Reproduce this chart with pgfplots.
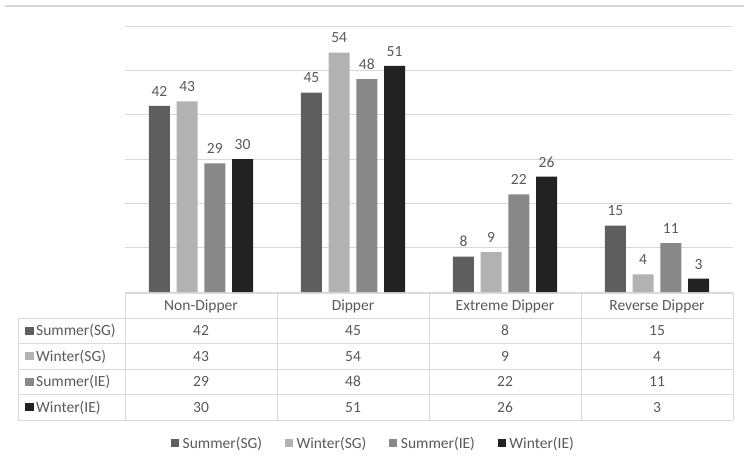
\documentclass[border=0pt]{standalone}
\usepackage{pgfplots}
\usepackage{pgfplotstable}
\pgfplotsset{compat=1.18}
\usepackage{fontspec}
\setmainfont{Carlito}
\definecolor{cA}{HTML}{5F5F5F}
\definecolor{cB}{HTML}{B2B2B2}
\definecolor{cC}{HTML}{888888}
\definecolor{cD}{HTML}{222222}
\definecolor{txt}{HTML}{595959}
\definecolor{gridc}{HTML}{D9D9D9}
\pgfplotstableread{
x SSG WSG SIE WIE
0 42 43 29 30
1 45 54 48 51
2 8 9 22 26
3 15 4 11 3
}\data
\newcommand{\fnt}{\fontsize{15.5}{18}\selectfont}
\begin{document}
\begin{tikzpicture}[x=1pt,y=1pt]
\useasboundingbox (0,0) rectangle (744,466);
\draw[gridc, line width=1.2pt] (5,460) -- (744,460);
\begin{axis}[
  at={(125pt,174pt)}, anchor=south west,
  scale only axis, width=608pt, height=266pt,
  xmin=-0.5, xmax=3.5, ymin=0, ymax=60,
  xtick=\empty, ytick={0,10,...,60}, yticklabels={},
  major tick length=0pt,
  ymajorgrids, grid style={gridc, line width=0.9pt},
  axis line style={draw=none},
  ybar=6.7pt, bar width=21pt,
  clip=false,
  /pgf/number format/assume math mode=true,
  nodes near coords,
  every node near coord/.append style={font=\fnt, text=txt, yshift=6pt},
  legend columns=4,
  legend image code/.code={\draw[#1,draw=none] (0pt,-4pt) rectangle (8pt,4pt);},
  legend style={draw=none, fill=none, font=\fnt, text=txt,
    at={(0.4087,-0.568)}, anchor=center,
    /tikz/every odd column/.append style={column sep=1.5pt},
    /tikz/every even column/.append style={column sep=21pt},
    nodes={inner sep=2pt}},
]
\addplot[fill=cA, draw=none] table[x=x,y=SSG]{\data};
\addplot[fill=cB, draw=none] table[x=x,y=WSG]{\data};
\addplot[fill=cC, draw=none] table[x=x,y=SIE]{\data};
\addplot[fill=cD, draw=none] table[x=x,y=WIE]{\data};
\legend{Summer(SG),Winter(SG),Summer(IE),Winter(IE)}
\end{axis}
% data table grid
\begin{scope}[gridc, line width=0.9pt]
\draw (125,173) -- (733,173);
\foreach \yy in {148,122.5,97,71.5,46} \draw (18,\yy) -- (733,\yy);
\draw (18,148) -- (18,46);
\foreach \xx in {125,277,429,581,733} \draw (\xx,173) -- (\xx,46);
\end{scope}
% headers
\foreach \nm [count=\i from 0] in {Non-Dipper,Dipper,Extreme Dipper,Reverse Dipper}
  \node[anchor=base, font=\fnt, text=txt, inner sep=0pt] at ({201+152*\i},155.5) {\nm};
% row labels
\foreach \lab/\col [count=\j from 0] in {Summer(SG)/cA,Winter(SG)/cB,Summer(IE)/cC,Winter(IE)/cD}{
  \fill[\col] (25,{135.25-25.5*\j-4.2}) rectangle (33.5,{135.25-25.5*\j+4.2});
  \node[anchor=base west, font=\fnt, text=txt, inner sep=0pt] at (36,{130.25-25.5*\j}) {\lab};
}
% values
\foreach \r in {0,...,3}{
  \foreach \c [count=\j from 0] in {SSG,WSG,SIE,WIE}{
    \pgfplotstablegetelem{\r}{\c}\of\data
    \node[anchor=base, font=\fnt, text=txt, inner sep=0pt] at ({201+152*\r},{130.25-25.5*\j}) {\pgfplotsretval};
  }
}
\end{tikzpicture}
\end{document}
